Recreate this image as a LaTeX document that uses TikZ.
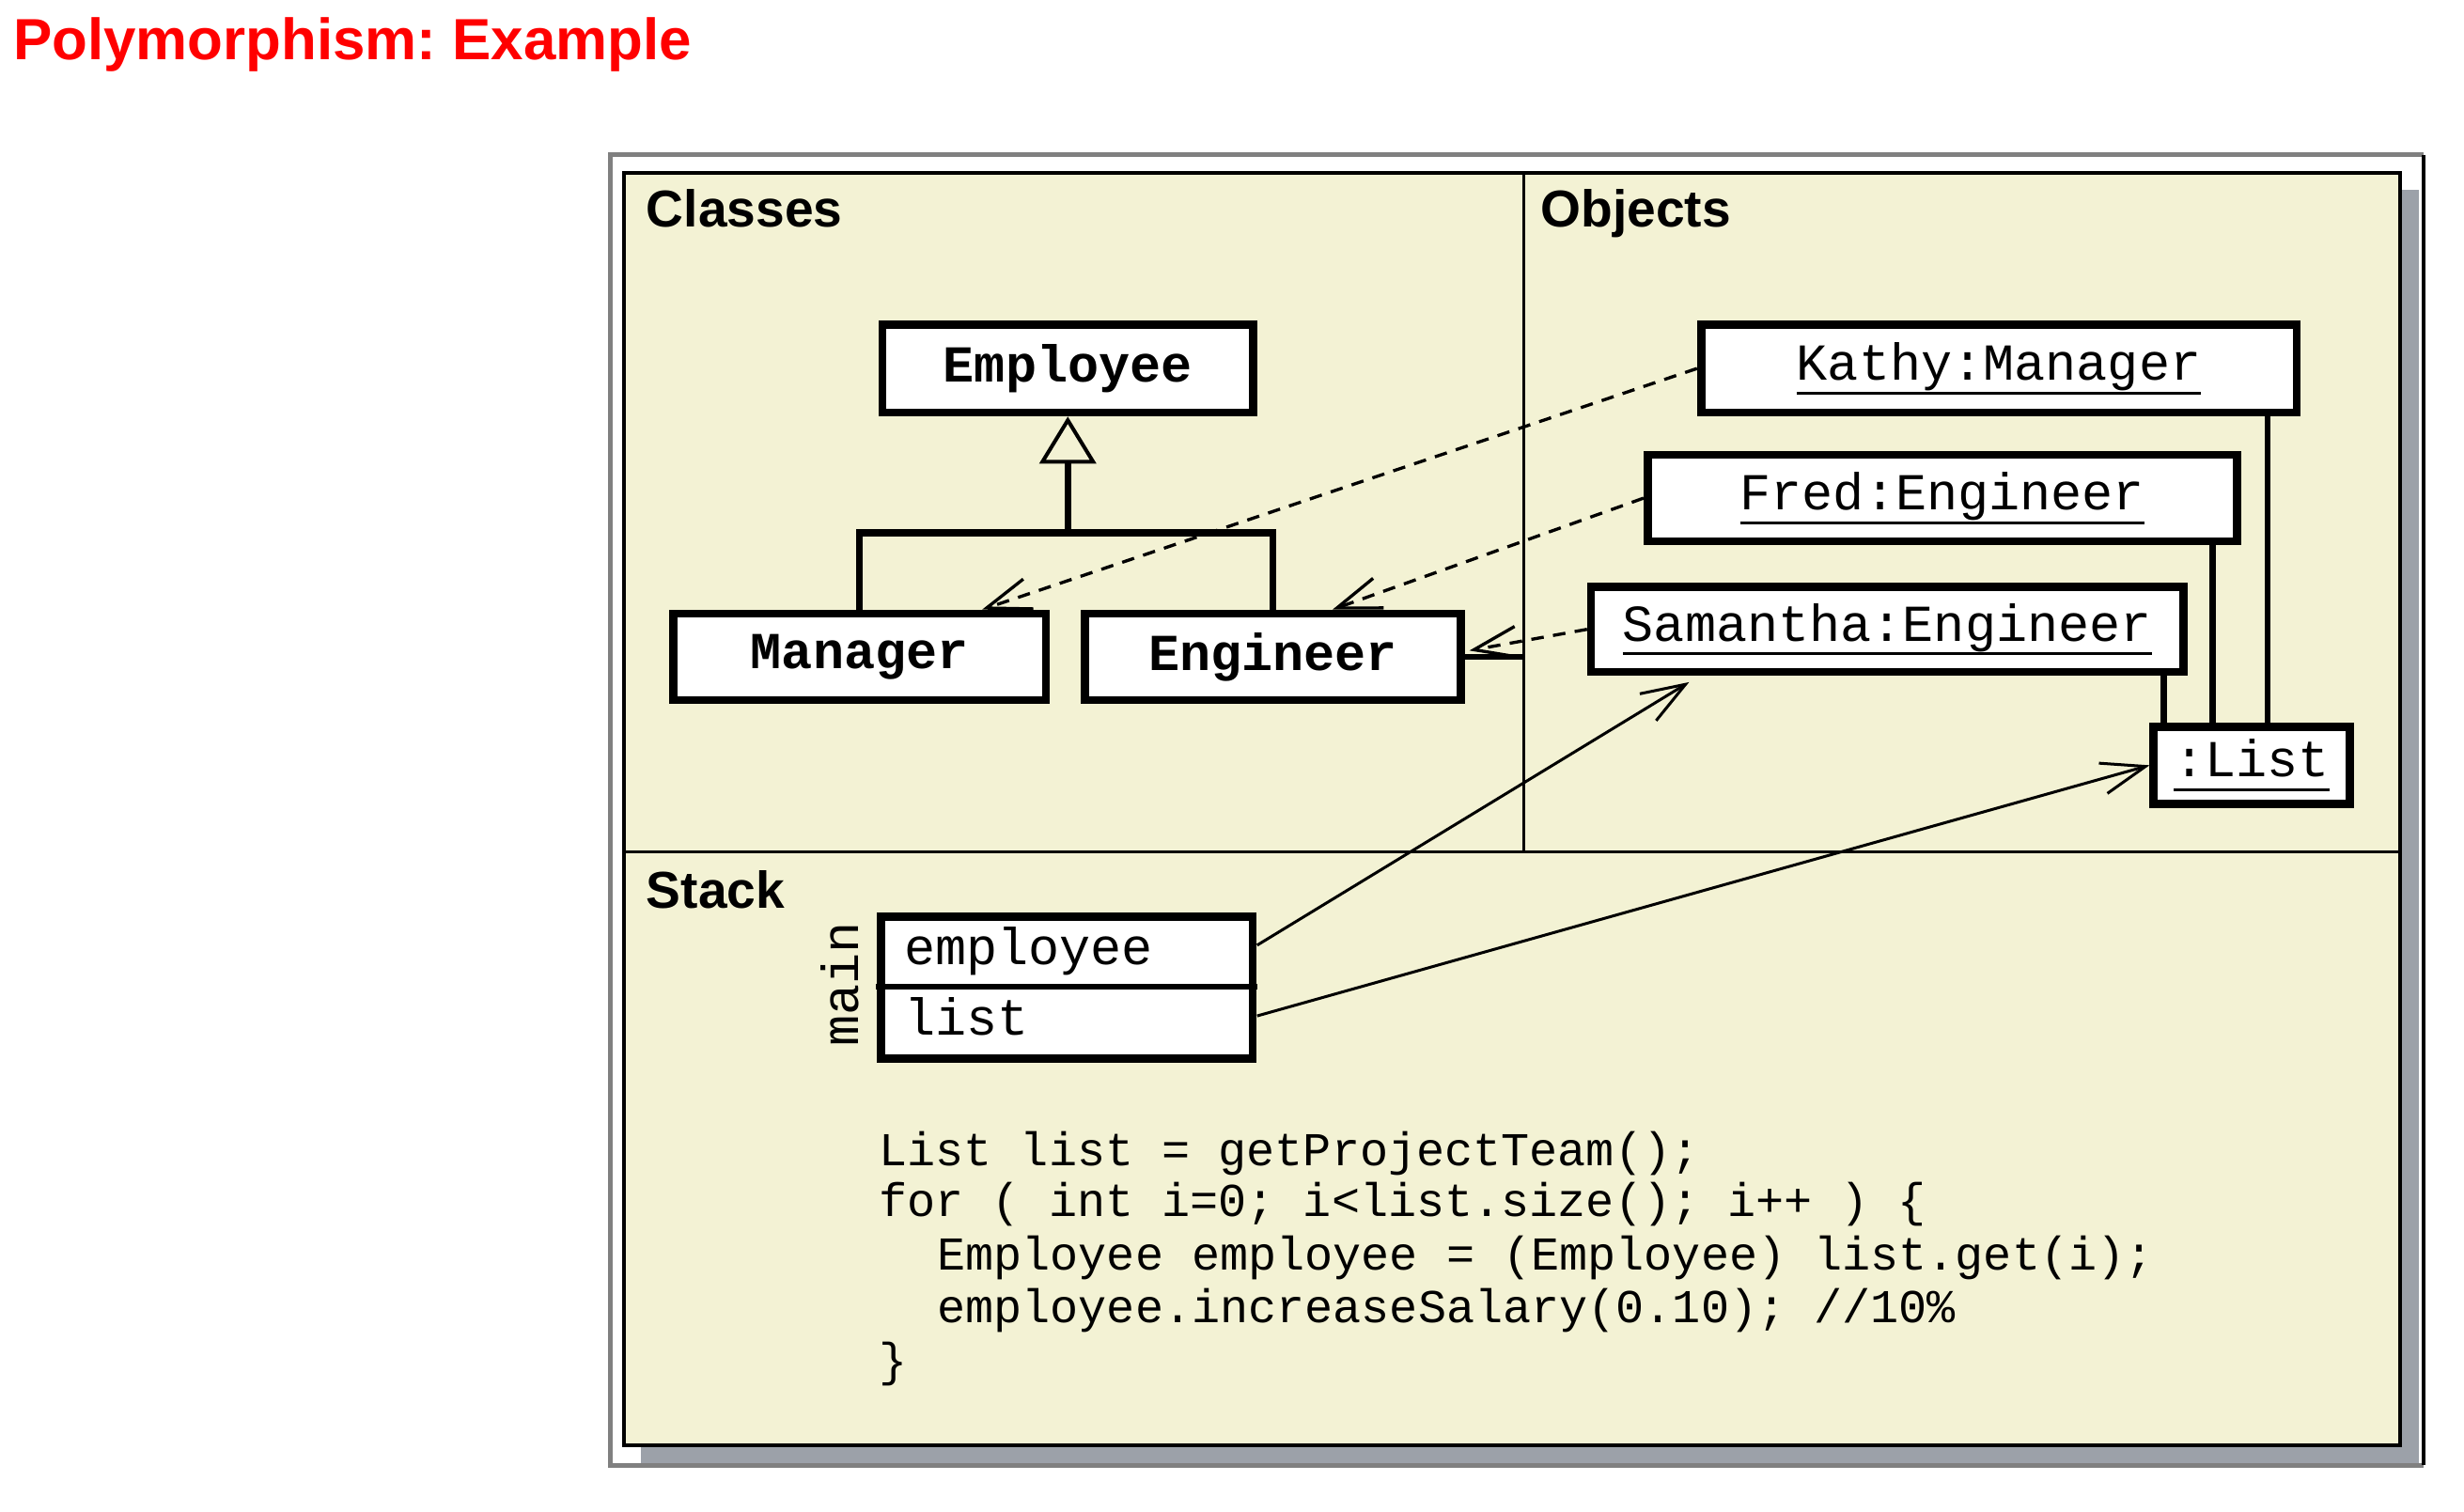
\documentclass[tikz,border=0pt]{standalone}
\usepackage{fontspec}
\setmainfont{Liberation Sans}
\newfontfamily\monofnt{Liberation Mono}
\usetikzlibrary{arrows.meta}
\definecolor{beige}{HTML}{F3F2D4}
\definecolor{shadowgray}{HTML}{9CA1A9}
\definecolor{framegray}{HTML}{808080}
\definecolor{titlered}{HTML}{FF0000}
\newsavebox\ulbox
\newcommand\objul[1]{\sbox\ulbox{#1}\rlap{\rule[-4.6pt]{\wd\ulbox}{0.9pt}}\usebox\ulbox}
\frenchspacing
\begin{document}
\begin{tikzpicture}[x=0.5pt,y=-0.5pt,
  classbox/.style={draw=black, line width=2.6pt, fill=white, inner sep=0pt, font=\monofnt\bfseries\fontsize{16.5}{18}\selectfont},
  objbox/.style={draw=black, line width=2.6pt, fill=white, inner sep=0pt, font=\monofnt\fontsize{16.5}{18}\selectfont},
  cell/.style={inner sep=0pt},
  header/.style={anchor=base west, inner sep=0pt, font=\bfseries\fontsize{16.5}{18}\selectfont},
  monotext/.style={anchor=base west, inner sep=0pt, font=\monofnt\fontsize{16.5}{18}\selectfont},
  codeline/.style={anchor=base west, inner sep=0pt, font=\monofnt\fontsize{15}{17}\selectfont},
  linkline/.style={line width=2pt},
  instarrow/.style={line width=1pt, dash pattern=on 4pt off 3pt, -{Straight Barb[length=14pt,width=10pt]}},
  refarrow/.style={line width=0.9pt, -{Straight Barb[length=14pt,width=10pt]}},
]
\useasboundingbox (0,0) rectangle (1568,962);

% title
\node[anchor=base west, inner sep=0pt, text=titlered, font=\bfseries\fontsize{18.5}{20}\selectfont] (title) at (8,38) {Polymorphism: Example};

% frame, shadow, panel
\fill[white] (388.5,98.5) rectangle (1542,932.5);
\fill[shadowgray] (408,121) rectangle (1539.5,931);
\draw[framegray, line width=1.5pt] (1542,932.5) -- (388.5,932.5) -- (388.5,98.5) -- (1542,98.5);
\draw[black, line width=1.2pt] (1542,98.5) -- (1542,932.5);
\draw[fill=beige, line width=1.2pt] (397,110) rectangle (1527.5,920);
\coordinate (divtop) at (969.5,110);
\coordinate (divbot) at (969.5,542);
\coordinate (hleft) at (397,542);
\coordinate (hright) at (1527.5,542);
\draw[line width=1pt] (divtop) -- (divbot);
\draw[line width=1pt] (hleft) -- (hright);

% headers
\node[header] (hclasses) at (411,144.7) {Classes};
\node[header] (hobjects) at (980,144.7) {Objects};
\node[header] (hstack) at (411,578) {Stack};

% classes
\node[classbox, minimum width=118pt, minimum height=28pt] (Employee) at (679.5,234.5) {Employee};
\node[classbox, minimum width=118.5pt, minimum height=27.5pt] (Manager) at (547,418) {Manager};
\node[classbox, minimum width=119.5pt, minimum height=27.5pt] (Engineer) at (810,418) {Engineer};

\coordinate (hbar) at (679.5,339);
\draw[line width=2.2pt] (Manager.north) |- (hbar) -| (Engineer.north);
\draw[line width=2.2pt, -{Triangle[open, length=15pt, width=18pt, line width=1.2pt]}] (hbar) -- (Employee.south);

% objects
\node[objbox, minimum width=189.5pt, minimum height=28pt] (Kathy) at (1272,234.5) {\objul{Kathy:Manager}};
\node[objbox, minimum width=187.5pt, minimum height=27.5pt] (Fred) at (1236,317) {\objul{Fred:Engineer}};
\node[objbox, minimum width=188.5pt, minimum height=27pt] (Samantha) at (1201,400.5) {\objul{Samantha:Engineer}};
\node[objbox, minimum width=62.5pt, minimum height=24.5pt] (List) at (1433,487) {\objul{:List}};

\coordinate (kx) at (1443,0);
\coordinate (fx) at (1408,0);
\coordinate (sx) at (1377,0);
\draw[linkline] (Kathy.south -| kx) -- (kx |- List.north);
\draw[linkline] (Fred.south -| fx) -- (fx |- List.north);
\draw[linkline] (Samantha.south -| sx) -- (sx |- List.north);
\draw[linkline] (Engineer.east) -- (Engineer.east -| divtop);

% instance-of arrows
\draw[instarrow] (Kathy.west) -- ([xshift=39pt]Manager.north);
\draw[instarrow] (Fred.west) -- ([xshift=19pt]Engineer.north);
\draw[instarrow] (Samantha.west) -- ([xshift=1.5pt,yshift=2pt]Engineer.east);

% stack
\node[draw=black, line width=2.6pt, fill=white, inner sep=0pt, minimum width=118.3pt, minimum height=45pt] (stk) at (678.8,628.5) {};
\node[cell, minimum width=120.8pt, minimum height=22pt] (semp) at (678.8,605.5) {};
\node[cell, minimum width=120.8pt, minimum height=23pt] (slist) at (678.8,650.5) {};
\draw[line width=1.6pt] (semp.south west) -- (semp.south east);
\node[monotext] (templ) at (575,614) {employee};
\node[monotext] (tlist) at (575,659) {list};
\node[inner sep=0pt, rotate=90, anchor=base, font=\monofnt\fontsize{16.5}{18}\selectfont] (mainlbl) at (546,626.5) {main};

% reference arrows
\draw[refarrow] ([yshift=2pt]semp.east) -- ([xshift=32.5pt,yshift=-2pt]Samantha.south west);
\draw[refarrow] ([yshift=2pt]slist.east) -- (List.west);

% code
\node[codeline] (code1) at (559,741.6) {List list = getProjectTeam();};
\node[codeline] (code2) at (559,774.4) {for ( int i=0; i<list.size(); i++ ) \{};
\node[codeline] (code3) at (596,808) {Employee employee = (Employee) list.get(i);};
\node[codeline] (code4) at (596,842) {employee.increaseSalary(0.10); //10\%};
\node[codeline] (code5) at (559,875.6) {\}};
\end{tikzpicture}
\end{document}
